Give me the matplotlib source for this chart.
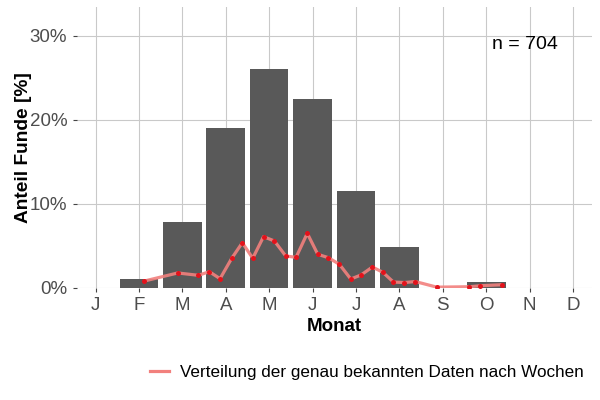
import matplotlib
matplotlib.use("Agg")
import matplotlib.pyplot as plt
from matplotlib.ticker import FuncFormatter
from matplotlib.lines import Line2D

plt.rcParams['font.family'] = ['Liberation Sans', 'DejaVu Sans']

# --- data ---
months = ["J", "F", "M", "A", "M", "J", "J", "A", "S", "O", "N", "D"]
month_share = [0.0, 1.1, 7.85, 19.0, 26.1, 22.55, 11.5, 4.85, 0.0, 0.72, 0.0, 0.0]  # % per month

# weekly distribution: position on month axis, share in %
week_pos = [2.124, 2.894, 3.369, 3.622, 3.869, 4.138, 4.382, 4.622, 4.870, 5.120,
            5.382, 5.620, 5.878, 6.120, 6.364, 6.618, 6.880, 7.117, 7.378, 7.618,
            7.862, 8.115, 8.366, 8.862, 9.606, 9.866, 10.359]
week_share = [0.83, 1.79, 1.51, 1.94, 1.11, 3.54, 5.39, 3.54, 6.11, 5.60,
              3.81, 3.65, 6.51, 4.01, 3.61, 2.82, 1.07, 1.55, 2.50, 1.87,
              0.71, 0.65, 0.77, 0.10, 0.15, 0.27, 0.39]

n_label = "n = 704"
legend_label = "Verteilung der genau bekannten Daten nach Wochen"

# --- figure ---
fig = plt.figure(figsize=(6, 4), dpi=100)
ax = fig.add_axes([76.5 / 600, 1 - 288 / 400, 515.2 / 600, 281 / 400])

xpos = list(range(1, len(months) + 1))
ax.bar(xpos, month_share, width=0.89, color="#595959", zorder=2)
ax.plot(week_pos, week_share, color="#F2807D", lw=2.3, alpha=0.9, zorder=3,
        solid_capstyle="round", solid_joinstyle="round")
ax.plot(week_pos, week_share, "o", color="#E3121B", ms=3.6, mec="none", zorder=4)

ax.set_xlim(0.562, 12.43)
ax.set_ylim(0, 33.45)
ax.set_xticks(xpos)
ax.set_xticklabels(months)
ax.set_yticks([0, 10, 20, 30])
ax.yaxis.set_major_formatter(FuncFormatter(lambda v, p: f"{int(v)}%"))

ax.grid(True, color="#C9C9C9", lw=0.8, zorder=0)
ax.set_axisbelow(True)
for s in ax.spines.values():
    s.set_visible(False)
ax.tick_params(axis="both", length=3.2, width=0.8, color="#444444",
               labelsize=13.5, labelcolor="#4D4D4D", pad=3)
ax.tick_params(axis="y", pad=3.5)

ax.set_xlabel("Monat", fontsize=13.5, fontweight="bold", color="black")
ax.set_ylabel("Anteil Funde [%]", fontsize=13.8, fontweight="bold", color="black")
ax.xaxis.set_label_coords(0.5, -0.107)
ax.yaxis.set_label_coords(-0.087, 0.5)

ax.text(0.8705, 0.865, n_label, transform=ax.transAxes, ha="center", va="center",
        fontsize=14, color="black")

handle = Line2D([0], [0], color="#F2807D", lw=2.3)
fig.legend([handle], [legend_label], loc="center", bbox_to_anchor=(367 / 600, 1 - 372 / 400),
           frameon=False, fontsize=12.3, handlelength=1.12, handletextpad=0.65)

fig.savefig("out.png", dpi=100, facecolor="white")
